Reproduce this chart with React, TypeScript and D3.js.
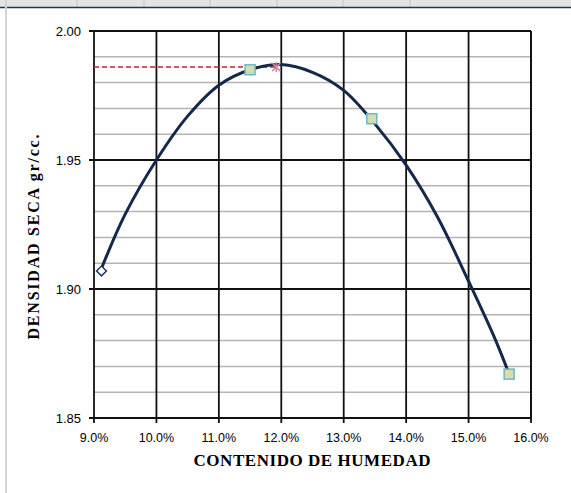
import React from 'react';
import * as d3 from 'd3';

// puntos del ensayo (humedad %, densidad seca)
const muestraX = [11.5, 13.45, 15.65];
const muestraY = [1.985, 1.966, 1.867];
const primerX = [9.12];
const primerY = [1.907];
const maximoX = [11.92];
const maximoY = [1.986];

// curva de ajuste
const curvaX = [9.12, 9.5, 10.0, 10.5, 11.0, 11.5, 12.0, 12.5, 13.0, 13.5, 14.0, 14.5, 15.0, 15.4, 15.65];
const curvaY = [1.908, 1.929, 1.950, 1.967, 1.979, 1.985, 1.987, 1.984, 1.977, 1.964, 1.948, 1.928, 1.903, 1.882, 1.867];

const xTicks = [9, 10, 11, 12, 13, 14, 15, 16];
const yTicks = [1.85, 1.9, 1.95, 2.0];
const yMinor = [1.86, 1.87, 1.88, 1.89, 1.91, 1.92, 1.93, 1.94, 1.96, 1.97, 1.98, 1.99];
const columnas = [77, 144, 210, 277, 343, 410];

const W = 571;
const H = 493;
const margin = { top: 31, right: 40, bottom: 75, left: 94 };

const App = () => {
  const x = d3.scaleLinear().domain([9, 16]).range([margin.left, W - margin.right]);
  const y = d3.scaleLinear().domain([1.85, 2.0]).range([H - margin.bottom, margin.top]);

  const linea = d3.line<number>()
    .x((_, i) => x(curvaX[i]))
    .y(d => y(d))
    .curve(d3.curveCatmullRom.alpha(0.5));

  const x0 = x.range()[0];
  const x1 = x.range()[1];
  const y0 = y.range()[0];
  const y1 = y.range()[1];

  return (
    <svg width={W} height={H} style={{ position: 'absolute', left: 0, top: 0, background: '#fff' }}>
      {/* marco de la hoja de cálculo */}
      <rect x={0} y={0} width={W} height={7} fill="#e4e4e4" />
      {columnas.map(c => (
        <line key={c} x1={c} x2={c} y1={0} y2={7} stroke="#c4c4c4" strokeWidth={1} />
      ))}
      <line x1={0} x2={W} y1={7.5} y2={7.5} stroke="#1f3550" strokeWidth={1.5} />
      <line x1={6} x2={6} y1={0} y2={H} stroke="#d4d4d4" strokeWidth={2} />

      {/* rejilla menor */}
      {yMinor.map(v => (
        <line key={v} x1={x0} x2={x1} y1={y(v)} y2={y(v)} stroke="#b4b4b4" strokeWidth={1.5} />
      ))}
      {/* rejilla mayor */}
      {yTicks.map(v => (
        <line key={v} x1={x0 - 5} x2={x1} y1={y(v)} y2={y(v)} stroke="#111" strokeWidth={1.8} />
      ))}
      {xTicks.map(v => (
        <line key={v} x1={x(v)} x2={x(v)} y1={y1} y2={y0 + 5} stroke="#111" strokeWidth={1.8} />
      ))}

      {/* etiquetas de ejes */}
      {yTicks.map(v => (
        <text key={v} x={x0 - 13} y={y(v)} dy="0.35em" textAnchor="end"
          fontFamily="Liberation Sans, Arial, sans-serif" fontSize={13} fill="#000">
          {d3.format('.2f')(v)}
        </text>
      ))}
      {xTicks.map(v => (
        <text key={v} x={x(v)} y={y0 + 20} dy="0.35em" textAnchor="middle"
          fontFamily="Liberation Sans, Arial, sans-serif" fontSize={12.5} fill="#000">
          {v.toFixed(1) + '%'}
        </text>
      ))}

      {/* línea de densidad máxima */}
      <line x1={x0} x2={x(maximoX[0])} y1={y(maximoY[0])} y2={y(maximoY[0])}
        stroke="#c0282a" strokeWidth={1.5} strokeDasharray="5,3" />

      {/* curva */}
      <path d={linea(curvaY) || ''} fill="none" stroke="#14284a" strokeWidth={3} strokeLinejoin="round" />

      {/* marcadores */}
      {primerX.map((v, i) => (
        <rect key={v} x={x(v) - 3.5} y={y(primerY[i]) - 3.5} width={7} height={7}
          transform={`rotate(45 ${x(v)} ${y(primerY[i])})`} fill="#fff" stroke="#1f3a66" strokeWidth={1.5} />
      ))}
      {muestraX.map((v, i) => (
        <rect key={v} x={x(v) - 5} y={y(muestraY[i]) - 5} width={10} height={10}
          fill="#d2deae" stroke="#6cb8c8" strokeWidth={1.5} />
      ))}
      {maximoX.map((v, i) => {
        const cx = x(v);
        const cy = y(maximoY[i]);
        return (
          <g key={v} stroke="#c88aa0" strokeWidth={1.5}>
            <line x1={cx - 4} x2={cx + 4} y1={cy - 4} y2={cy + 4} />
            <line x1={cx - 4} x2={cx + 4} y1={cy + 4} y2={cy - 4} />
            <line x1={cx} x2={cx} y1={cy - 5} y2={cy + 5} />
          </g>
        );
      })}

      {/* bordes */}
      <line x1={x0} x2={x1} y1={y1} y2={y1} stroke="#111" strokeWidth={1.8} />
      <line x1={x1} x2={x1} y1={y1} y2={y0} stroke="#111" strokeWidth={1.8} />

      {/* títulos */}
      <text x={312} y={460} dy="0.35em" textAnchor="middle" textLength={237} lengthAdjust="spacing"
        fontFamily="Liberation Serif, Times New Roman, serif" fontWeight="bold" fontSize={17} fill="#000">
        CONTENIDO DE HUMEDAD
      </text>
      <text transform={`translate(33,237) rotate(-90)`} dy="0.35em" textAnchor="middle" textLength={205}
        lengthAdjust="spacing"
        fontFamily="Liberation Serif, Times New Roman, serif" fontWeight="bold" fontSize={16} fill="#000">
        DENSIDAD SECA gr/cc.
      </text>
    </svg>
  );
};

export default App;
